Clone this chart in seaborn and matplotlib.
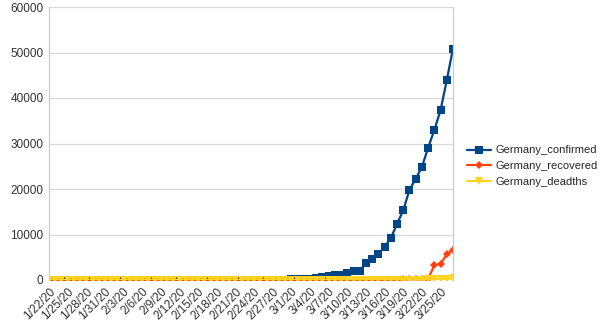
import matplotlib
matplotlib.use("Agg")
import matplotlib.pyplot as plt
import seaborn as sns
import pandas as pd

dates = ["1/22/20","1/23/20","1/24/20","1/25/20","1/26/20","1/27/20","1/28/20","1/29/20","1/30/20","1/31/20",
         "2/1/20","2/2/20","2/3/20","2/4/20","2/5/20","2/6/20","2/7/20","2/8/20","2/9/20","2/10/20",
         "2/11/20","2/12/20","2/13/20","2/14/20","2/15/20","2/16/20","2/17/20","2/18/20","2/19/20","2/20/20",
         "2/21/20","2/22/20","2/23/20","2/24/20","2/25/20","2/26/20","2/27/20","2/28/20","2/29/20",
         "3/1/20","3/2/20","3/3/20","3/4/20","3/5/20","3/6/20","3/7/20","3/8/20","3/9/20","3/10/20",
         "3/11/20","3/12/20","3/13/20","3/14/20","3/15/20","3/16/20","3/17/20","3/18/20","3/19/20","3/20/20",
         "3/21/20","3/22/20","3/23/20","3/24/20","3/25/20","3/26/20","3/27/20"]

confirmed = [0,0,0,0,0,1,4,4,4,5,
             8,10,12,12,12,12,13,13,14,14,
             16,16,16,16,16,16,16,16,16,16,
             16,16,16,16,17,27,46,48,79,
             130,159,196,262,482,670,799,1040,1176,1457,
             1908,2078,3675,4585,5795,7272,9257,12327,15320,19848,
             22213,24873,29056,32986,37323,43938,50871]

recovered = [0,0,0,0,0,0,0,0,0,0,
             0,0,0,0,0,0,0,0,0,0,
             0,1,1,1,1,1,1,12,12,12,
             14,14,14,14,14,15,16,16,16,
             16,16,16,16,16,16,17,18,18,18,
             25,25,46,46,46,67,67,105,113,180,
             233,266,266,3243,3547,5673,6658]

deaths = [0,0,0,0,0,0,0,0,0,0,
          0,0,0,0,0,0,0,0,0,0,
          0,0,0,0,0,0,0,0,0,0,
          0,0,0,0,0,0,0,0,0,
          0,0,0,0,0,0,0,0,2,2,
          3,3,7,9,11,17,24,28,44,67,
          84,94,123,157,206,267,342]

series_names = ["Germany_confirmed", "Germany_recovered", "Germany_deadths"]
colors = ["#004586", "#ff420e", "#ffd320"]
markers = ["s", "D", "v"]

frames = []
for name, vals in zip(series_names, [confirmed, recovered, deaths]):
    frames.append(pd.DataFrame({"date": dates, "value": vals, "series": name}))
df = pd.concat(frames, ignore_index=True)

sns.set_theme(style="white")
plt.rcParams["font.family"] = ["Liberation Sans", "DejaVu Sans"]

fig = plt.figure(figsize=(6, 3.32), dpi=100)
ax = fig.add_axes([49/600, 1-280/332, (453-49)/600, (280-7)/332])

sns.lineplot(data=df, x="date", y="value", hue="series", style="series",
             palette=colors, markers=markers, dashes=False, linewidth=1.6,
             markersize=5.5, markeredgewidth=0, sort=False, ax=ax)

for ln in ax.lines:
    if ln.get_marker() == "D":
        ln.set_markersize(4.2)

ax.set_xlim(0, len(dates)-1)
ax.set_ylim(0, 60000)
ax.set_yticks(range(0, 60001, 10000))
ax.set_yticklabels([str(v) for v in range(0, 60001, 10000)], fontsize=8.5, color="#333333")
ax.set_xticks(range(0, len(dates), 3))
ax.set_xticklabels(dates[::3], rotation=45, ha="right", rotation_mode="anchor", fontsize=8.5, color="#333333")
ax.tick_params(axis="both", length=0, pad=4)
ax.set_xlabel("")
ax.set_ylabel("")
ax.grid(axis="y", color="#d9d9d9", linewidth=0.9)
ax.set_axisbelow(True)
for side in ["top", "bottom"]:
    ax.spines[side].set_visible(False)
for side in ["left", "right"]:
    ax.spines[side].set_color("#cccccc")
    ax.spines[side].set_linewidth(0.9)

handles, labels = ax.get_legend_handles_labels()
for h in handles:
    if h.get_marker() == "D":
        h.set_markersize(4.2)
ax.legend(handles, labels, loc="center left", bbox_to_anchor=(467/600, 1-166/332),
          bbox_transform=fig.transFigure, frameon=False, fontsize=8,
          borderaxespad=0, borderpad=0,
          handlelength=2.2, handletextpad=0.4, labelspacing=0.5)

fig.savefig("out.png", dpi=100)
